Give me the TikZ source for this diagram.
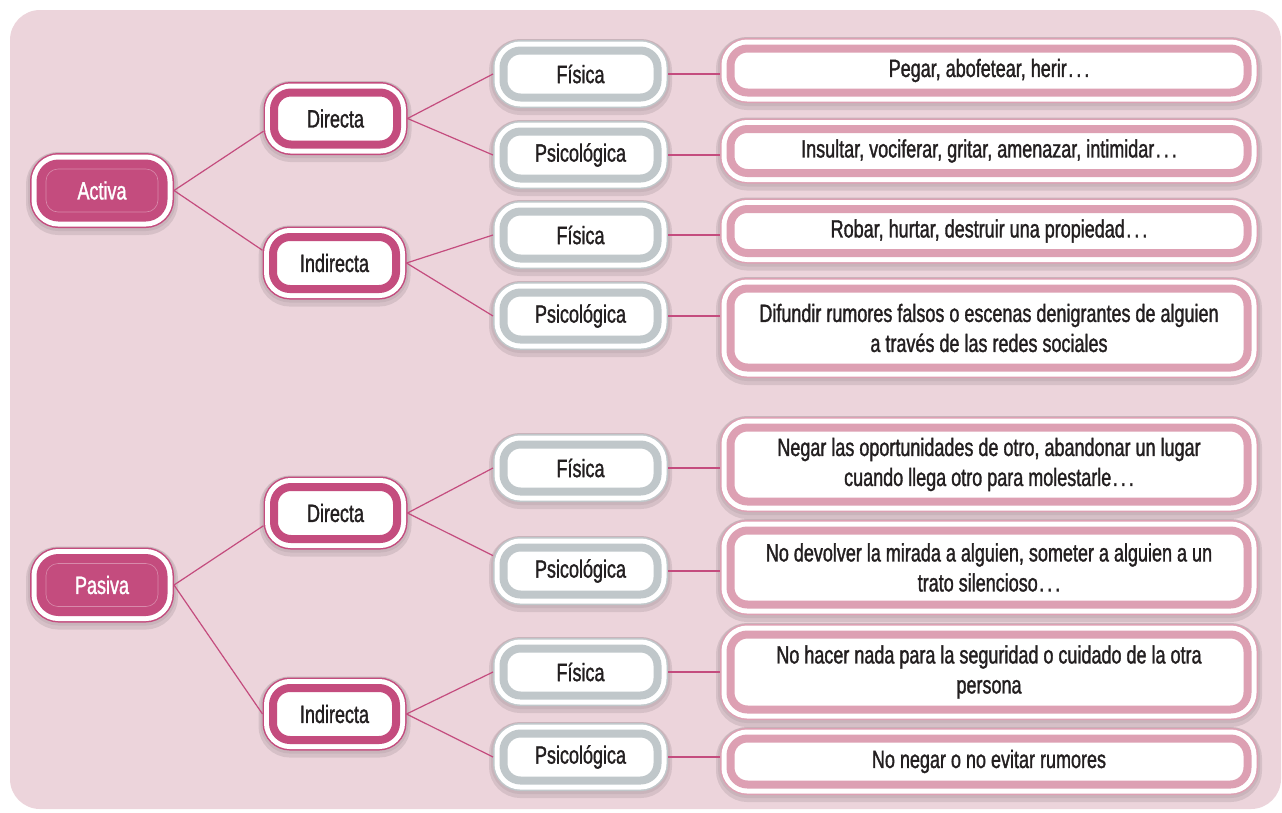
\documentclass[tikz,border=0pt]{standalone}
\usepackage{fontspec}
\setmainfont[FakeStretch=0.72,FakeBold=1.3]{Liberation Sans}
\usetikzlibrary{positioning}
\definecolor{bgpink}{RGB}{236,212,219}
\definecolor{pkdark}{RGB}{196,76,126}
\definecolor{pklight}{RGB}{221,160,179}
\definecolor{grayc}{RGB}{192,199,202}
\definecolor{txt}{RGB}{35,31,32}
\newcommand\etcdots{\kern1.5pt.\kern3pt.\kern3pt.}
\tikzset{
    box/.style={rounded corners=17pt, inner sep=0pt, align=center, outer sep=10.5pt,
        font=\fontsize{25}{30}\selectfont, text=txt,
        preaction={draw=black, draw opacity=.09, line width=29pt, transform canvas={yshift=-3pt}},% soft shadow
        preaction={draw=black, draw opacity=.06, line width=25pt, transform canvas={yshift=-1pt}},
        preaction={draw=#1, line width=21pt},% thin outer rim
        preaction={draw=white, line width=18pt},% white band
        draw=#1, line width=8pt, fill=white},
    main/.style={box=pkdark, fill=pkdark, text=white, rounded corners=18pt,
        minimum width=123pt, minimum height=54pt,
        path picture={\draw[white, opacity=.35, line width=.6pt, rounded corners=12pt]
            ([shift={(5.5pt,-5.5pt)}]path picture bounding box.north west) rectangle
            ([shift={(-5.5pt,5.5pt)}]path picture bounding box.south east);}},
    sub/.style={box=pkdark, minimum width=123pt, minimum height=52pt},
    kind/.style={box=grayc, minimum width=154pt, minimum height=47pt},
    ex/.style={box=pklight, minimum width=517pt, minimum height=#1},
    link/.style={draw=pkdark, line width=1.2pt}
}
\begin{document}
\begin{tikzpicture}[x=1pt, y=-1pt]
\useasboundingbox (0,0) rectangle (1282,812);
\fill[bgpink, rounded corners=30pt] (10,10) rectangle (1281,809);

% activa
\node[main] (act) at (102,190.5) {Activa};
\node[sub] (ad) at (335.5,118.5) {Directa};
\node[sub] (ai) at (334.5,263) {Indirecta};
\node[kind] (af1) at (580.5,74) {Física};
\node[kind] (ap1) at (580.5,155) {Psicológica};
\node[kind] (af2) at (580.5,235) {Física};
\node[kind] (ap2) at (580.5,316) {Psicológica};
\node[ex=44pt] (r1) at (989,70.5) {Pegar, abofetear, herir\etcdots};
\node[ex=44pt] (r2) at (989,151) {Insultar, vociferar, gritar, amenazar, intimidar\etcdots};
\node[ex=44pt] (r3) at (989,231) {Robar, hurtar, destruir una propiedad\etcdots};
\node[ex=79pt] (r4) at (989,328) {Difundir rumores falsos o escenas denigrantes de alguien\\a través de las redes sociales};

% pasiva
\node[main] (pas) at (102,585) {Pasiva};
\node[sub] (pd) at (335.5,513) {Directa};
\node[sub] (pi) at (334.5,714) {Indirecta};
\node[kind] (pf1) at (580.5,468) {Física};
\node[kind] (pp1) at (580.5,571) {Psicológica};
\node[kind] (pf2) at (580.5,672) {Física};
\node[kind] (pp2) at (580.5,757) {Psicológica};
\node[ex=74pt] (r5) at (989,464.5) {Negar las oportunidades de otro, abandonar un lugar\\cuando llega otro para molestarle\etcdots};
\node[ex=74pt] (r6) at (989,567.5) {No devolver la mirada a alguien, someter a alguien a un\\trato silencioso\etcdots};
\node[ex=75pt] (r7) at (989,672) {No hacer nada para la seguridad o cuidado de la otra\\persona};
\node[ex=46pt] (r8) at (989,761.5) {No negar o no evitar rumores};

\draw[link] (act.east) -- (ad.190);
\draw[link] (act.east) -- (ai.170);
\draw[link] (ad.east) -- (af1.west);
\draw[link] (ad.east) -- (ap1.west);
\draw[link] (ai.east) -- (af2.west);
\draw[link] (ai.east) -- (ap2.west);
\draw[link] (pas.east) -- (pd.190);
\draw[link] (pas.east) -- (pi.west);
\draw[link] (pd.east) -- (pf1.west);
\draw[link] (pd.east) -- (pp1.170);
\draw[link] (pi.east) -- (pf2.west);
\draw[link] (pi.east) -- (pp2.west);

\draw[link] (af1.east) -- (af1.east -| r1.west);
\draw[link] (ap1.east) -- (ap1.east -| r2.west);
\draw[link] (af2.east) -- (af2.east -| r3.west);
\draw[link] (ap2.east) -- (ap2.east -| r4.west);
\draw[link] (pf1.east) -- (pf1.east -| r5.west);
\draw[link] (pp1.east) -- (pp1.east -| r6.west);
\draw[link] (pf2.east) -- (pf2.east -| r7.west);
\draw[link] (pp2.east) -- (pp2.east -| r8.west);
\end{tikzpicture}
\end{document}
